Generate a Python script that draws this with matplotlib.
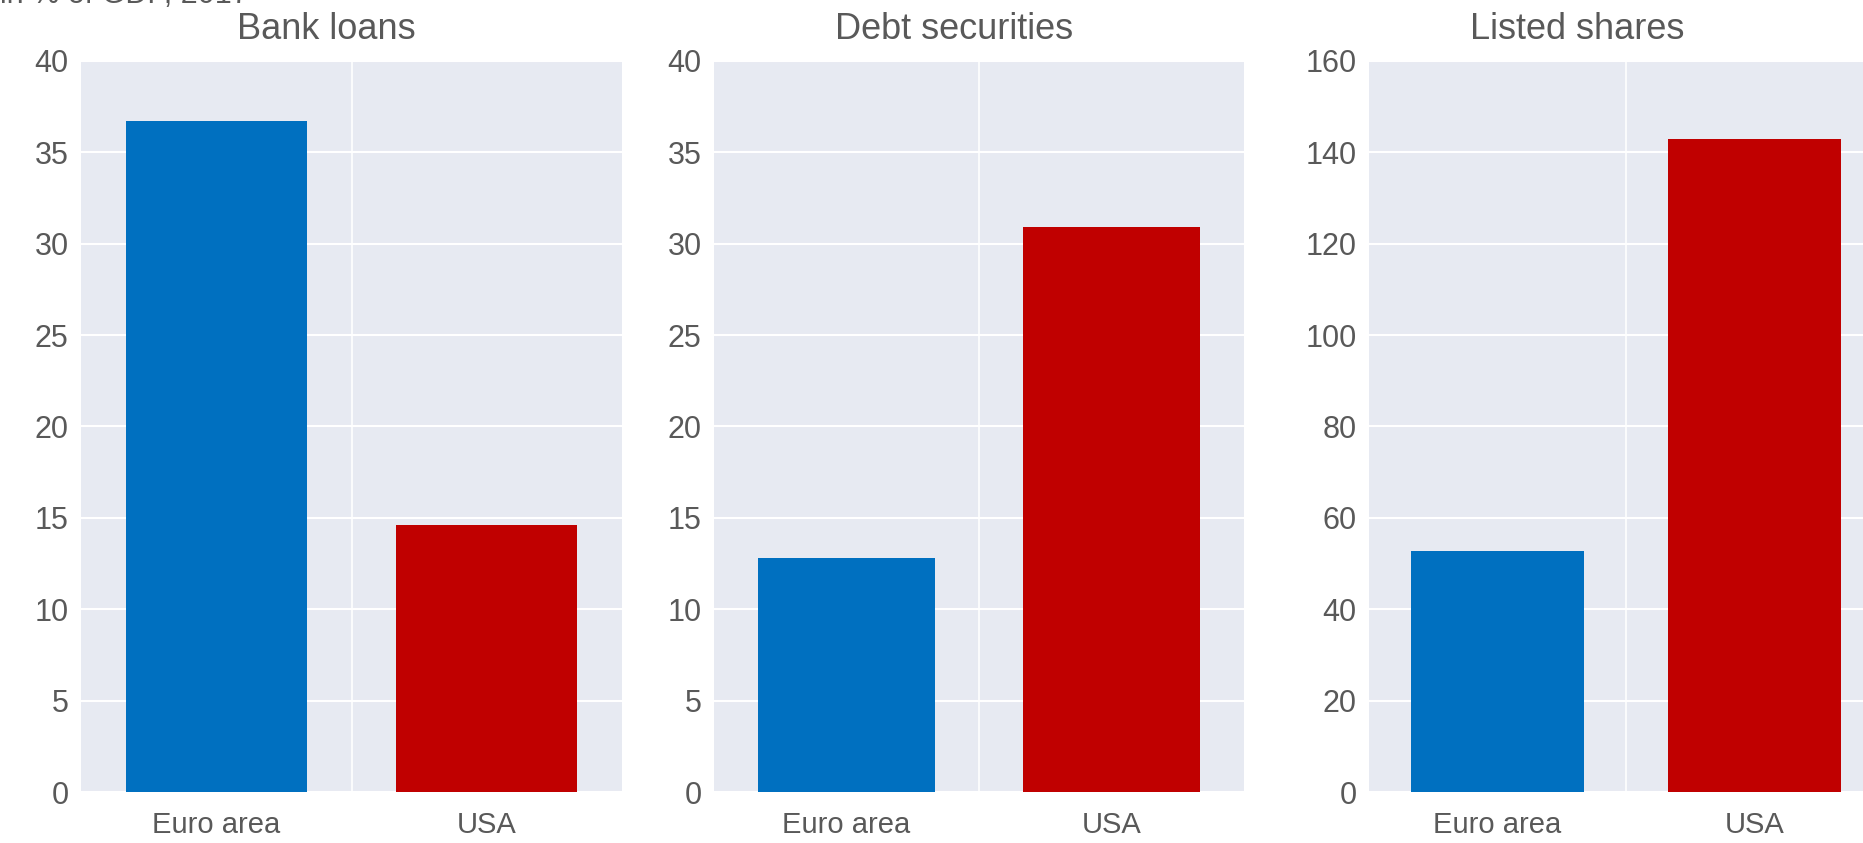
import matplotlib.pyplot as plt
import numpy as np

plt.rcParams['font.family'] = ['Liberation Sans', 'DejaVu Sans']

# values (in % of GDP, 2017)
regions = ['Euro area', 'USA']
titles = ['Bank loans', 'Debt securities', 'Listed shares']
bank_loans = [36.7, 14.6]
debt_securities = [12.8, 30.9]
listed_shares = [52.8, 142.9]
ylims = [40, 40, 160]
ysteps = [5, 5, 20]

colors = ['#0070C0', '#C00000']
grey = '#595959'
bg = '#E7EAF2'

W, H = 1863, 843
fig = plt.figure(figsize=(W / 100, H / 100), dpi=100)

# axes boxes in pixels: left, right
boxes = [(81, 622), (714, 1244), (1369, 1883)]
top, bottom = 61, 792
title_x = [326, 954, 1577]

series = [bank_loans, debt_securities, listed_shares]
for i, vals in enumerate(series):
    l, r = boxes[i]
    ax = fig.add_axes([l / W, 1 - bottom / H, (r - l) / W, (bottom - top) / H])
    ax.set_facecolor(bg)
    x = np.arange(len(regions))
    ax.bar(x, vals, width=0.67, color=colors, zorder=3)
    ax.set_xlim(-0.5, 1.5)
    ax.set_ylim(0, ylims[i])
    ax.set_yticks(np.arange(0, ylims[i] + 1, ysteps[i]))
    ax.set_xticks(x)
    ax.set_xticklabels(regions)
    ax.set_xticks([0.5], minor=True)
    ax.grid(axis='y', color='white', linewidth=1.5, zorder=1)
    ax.grid(axis='x', which='minor', color='white', linewidth=1.2, zorder=1)
    ax.tick_params(axis='both', which='both', length=0, colors=grey)
    ax.tick_params(axis='y', pad=9, labelsize=22)
    ax.tick_params(axis='x', pad=14, labelsize=21)
    for s in ax.spines.values():
        s.set_visible(False)
    fig.text(title_x[i] / W, 1 - 39 / H, titles[i], ha='center', va='baseline',
             fontsize=26, color=grey)

# subtitle, cut off at the top of the picture
fig.text(0.0, 1 - 3 / H, 'in % of GDP, 2017', ha='left', va='baseline',
         fontsize=22, color=grey)

fig.savefig('out.png', dpi=100)
